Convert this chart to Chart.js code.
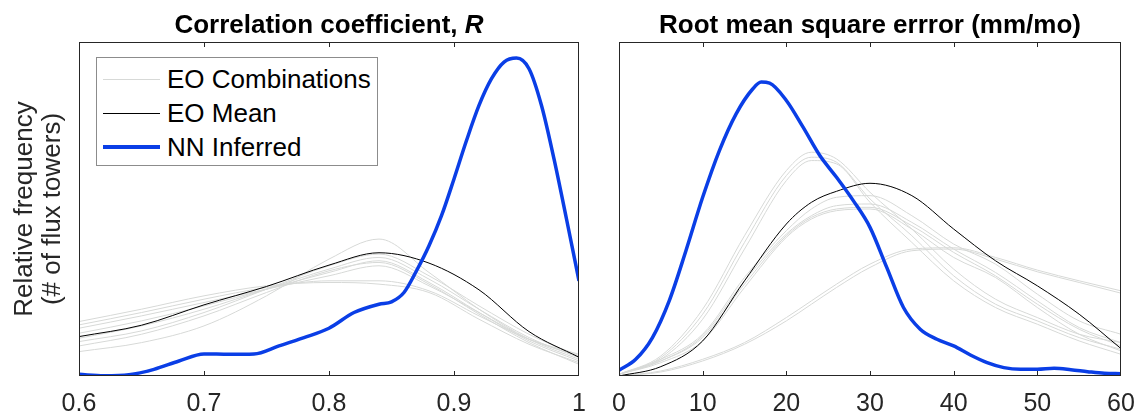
<!DOCTYPE html>
<html>
<head>
<meta charset="utf-8">
<script src="https://cdn.jsdelivr.net/npm/chart.js@4.4.1/dist/chart.umd.min.js"></script>
<style>
  body { margin: 0; background: #fff; font-family: "Liberation Sans", Arial, sans-serif; }
  #page { position: relative; width: 1139px; height: 419px; overflow: hidden; }
  canvas { position: absolute; top: 0; }
  #leftChart { left: 0; }
  #rightChart { left: 600px; }
  .ttl { position: absolute; top: 8px; font-size: 26px; font-weight: bold; color: #000; text-align: center; white-space: nowrap; line-height: 32px; }
  .frame { position: absolute; box-sizing: border-box; border: 1px solid #262626; pointer-events: none; }
  .tk { position: absolute; width: 1px; height: 5px; background: #262626; }
  #legend { position: absolute; left: 96px; top: 57px; width: 282px; height: 109px; border: 1px solid #8c8c8c; background: #fff; box-sizing: border-box; padding-top: 4px; }
  .row { height: 34px; display: flex; align-items: center; font-size: 26px; color: #000; }
  .sw { display: inline-block; width: 57px; margin-left: 6px; margin-right: 7px; }
</style>
</head>
<body>
<div id="page">
  <canvas id="leftChart" width="600" height="419"></canvas>
  <canvas id="rightChart" width="539" height="419"></canvas>
  <div class="ttl" style="left:79px;width:500px;">Correlation coefficient, <i>R</i></div>
  <div class="ttl" style="left:619px;width:502px;">Root mean square errror (mm/mo)</div>
</div>
<script>
// ---- data (relative frequency, as fraction of the axis height) ----
const leftTicks = [0.6, 0.7, 0.8, 0.9, 1];
const rightTicks = [0, 10, 20, 30, 40, 50, 60];

// correlation panel
const leftGrid = [0.6, 0.65, 0.7, 0.75, 0.8, 0.84, 0.88, 0.92, 0.96, 1.0];
const leftMean = [0.118, 0.152, 0.213, 0.268, 0.332, 0.369, 0.338, 0.258, 0.133, 0.056];
const leftCombos = [
  [0.073, 0.10, 0.15, 0.24, 0.35, 0.41, 0.31, 0.20, 0.11, 0.05],
  [0.103, 0.135, 0.19, 0.26, 0.33, 0.365, 0.30, 0.21, 0.125, 0.06],
  [0.113, 0.15, 0.20, 0.26, 0.32, 0.355, 0.29, 0.20, 0.115, 0.055],
  [0.128, 0.165, 0.21, 0.26, 0.31, 0.345, 0.28, 0.19, 0.105, 0.045],
  [0.143, 0.18, 0.22, 0.26, 0.30, 0.33, 0.27, 0.19, 0.11, 0.06],
  [0.153, 0.19, 0.23, 0.265, 0.285, 0.285, 0.255, 0.18, 0.11, 0.065],
  [0.163, 0.20, 0.24, 0.27, 0.28, 0.275, 0.25, 0.17, 0.095, 0.04],
  [0.09, 0.125, 0.18, 0.25, 0.315, 0.34, 0.275, 0.185, 0.10, 0.035]
];
const leftNNx = [0.6, 0.62, 0.64, 0.66, 0.68, 0.7, 0.72, 0.74, 0.76, 0.78, 0.8, 0.82, 0.84, 0.85, 0.86,
  0.87, 0.88, 0.89, 0.9, 0.91, 0.92, 0.93, 0.94, 0.95, 0.96, 0.97, 0.98, 0.99, 1.0];
const leftNN = [0.005, 0.001, 0.004, 0.02, 0.045, 0.066, 0.065, 0.066, 0.09, 0.115, 0.143, 0.19, 0.215, 0.222, 0.25,
  0.315, 0.39, 0.48, 0.59, 0.705, 0.81, 0.89, 0.94, 0.952, 0.92, 0.81, 0.65, 0.47, 0.285];

// rmse panel
const rightGrid = [0, 5, 10, 15, 20, 23, 26, 30, 35, 40, 45, 50, 55, 60];
const rightMean = [0.0, 0.028, 0.105, 0.285, 0.455, 0.52, 0.553, 0.577, 0.54, 0.44, 0.345, 0.27, 0.185, 0.082];
const rightCombos = [
  [0.005, 0.06, 0.2, 0.42, 0.615, 0.67, 0.65, 0.55, 0.44, 0.32, 0.23, 0.175, 0.125, 0.1],
  [0.005, 0.055, 0.185, 0.40, 0.60, 0.655, 0.64, 0.53, 0.42, 0.30, 0.215, 0.165, 0.115, 0.08],
  [0.005, 0.05, 0.17, 0.38, 0.585, 0.645, 0.635, 0.52, 0.40, 0.285, 0.205, 0.155, 0.105, 0.065],
  [0.005, 0.05, 0.125, 0.295, 0.435, 0.50, 0.535, 0.54, 0.48, 0.395, 0.335, 0.245, 0.165, 0.125],
  [0.005, 0.045, 0.12, 0.285, 0.425, 0.48, 0.51, 0.515, 0.46, 0.38, 0.31, 0.225, 0.145, 0.1],
  [0.005, 0.045, 0.115, 0.275, 0.42, 0.475, 0.50, 0.505, 0.45, 0.37, 0.30, 0.215, 0.14, 0.09],
  [0.005, 0.04, 0.105, 0.265, 0.415, 0.47, 0.495, 0.50, 0.44, 0.355, 0.295, 0.205, 0.125, 0.075],
  [0.0, 0.015, 0.05, 0.10, 0.175, 0.225, 0.275, 0.335, 0.38, 0.384, 0.355, 0.317, 0.285, 0.255],
  [0.0, 0.012, 0.045, 0.095, 0.165, 0.215, 0.265, 0.325, 0.375, 0.38, 0.35, 0.312, 0.28, 0.248]
];
const rightNNx = [0, 2, 4, 6, 8, 10, 12, 14, 16, 17, 18, 20, 22, 24, 26, 28, 30, 32, 34, 36, 38, 40,
  42, 44, 46, 48, 50, 52, 54, 56, 58, 60];
const rightNN = [0.017, 0.05, 0.115, 0.225, 0.375, 0.535, 0.675, 0.785, 0.86, 0.88, 0.877, 0.825, 0.745, 0.66,
  0.595, 0.525, 0.445, 0.325, 0.205, 0.14, 0.11, 0.09, 0.063, 0.04, 0.025, 0.02, 0.02, 0.023, 0.019, 0.013, 0.008, 0.007];

const labels = ['EO Combinations', 'EO Mean', 'NN Inferred'];

// styles
const comboColor = '#d7d9d7';
const meanColor = '#000000';
const nnColor = '#0a3ee6';
const axisColor = '#262626';
const fontFam = '"Liberation Sans", Arial, sans-serif';

function pts(xs, ys) {
  return xs.map((x, i) => ({ x: x, y: ys[i] }));
}

function buildSets(grid, combos, mean, nnx, nn) {
  const sets = [];
  sets.push({ label: labels[2], data: pts(nnx, nn), borderColor: nnColor, borderWidth: 3.5, order: 0 });
  sets.push({ label: labels[1], data: pts(grid, mean), borderColor: meanColor, borderWidth: 1, order: 1 });
  combos.forEach((c) => {
    sets.push({ label: labels[0], data: pts(grid, c), borderColor: comboColor, borderWidth: 1, order: 2 });
  });
  return sets;
}

function makeChart(id, sets, xmin, xmax, ticks, pad, withYTitle) {
  return new Chart(document.getElementById(id), {
    type: 'line',
    data: { datasets: sets },
    options: {
      responsive: false,
      animation: false,
      devicePixelRatio: 1,
      layout: { padding: pad },
      elements: { point: { radius: 0 }, line: { cubicInterpolationMode: 'monotone' } },
      plugins: { legend: { display: false }, tooltip: { enabled: false } },
      scales: {
        x: {
          type: 'linear', min: xmin, max: xmax,
          grid: { display: false, drawTicks: false },
          border: { display: false },
          afterBuildTicks: (s) => { s.ticks = ticks.map((v) => ({ value: v })); },
          afterFit: (s) => { s.height = 43; s.paddingLeft = 0; s.paddingRight = 0; },
          ticks: {
            maxRotation: 0, autoSkip: false, padding: 13, color: axisColor,
            font: { family: fontFam, size: 25 },
            callback: (v) => String(+Number(v).toFixed(1))
          }
        },
        y: {
          display: withYTitle, min: 0, max: 1,
          grid: { display: false, drawTicks: false },
          border: { display: false },
          ticks: { display: false },
          afterFit: (s) => { s.width = withYTitle ? 79 : 0; },
          title: {
            display: withYTitle,
            text: ['Relative frequency', '(# of flux towers)'],
            color: axisColor,
            padding: { top: 11, bottom: 0 },
            font: { family: fontFam, size: 26, lineHeight: 1.08 }
          }
        }
      }
    }
  });
}

const leftChart = makeChart('leftChart', buildSets(leftGrid, leftCombos, leftMean, leftNNx, leftNN),
  0.6, 1, leftTicks, { left: 0, right: 21, top: 42, bottom: 0 }, true);
const rightChart = makeChart('rightChart', buildSets(rightGrid, rightCombos, rightMean, rightNNx, rightNN),
  0, 60, rightTicks, { left: 19, right: 18, top: 42, bottom: 0 }, false);

// axes box + inward ticks (matlab style), placed from the chart's own scale
const page = document.getElementById('page');
function addFrame(chart) {
  const off = chart.canvas.offsetLeft;
  const a = chart.chartArea;
  const l = Math.round(a.left), r = Math.round(a.right), t = Math.round(a.top), b = Math.round(a.bottom);
  const box = document.createElement('div');
  box.className = 'frame';
  box.style.left = (off + l) + 'px';
  box.style.top = t + 'px';
  box.style.width = (r - l) + 'px';
  box.style.height = (b - t) + 'px';
  page.appendChild(box);
  chart.scales.x.ticks.forEach((tk) => {
    const px = Math.min(Math.round(chart.scales.x.getPixelForValue(tk.value)), r - 1);
    [t, b - 5].forEach((y) => {
      const m = document.createElement('div');
      m.className = 'tk';
      m.style.left = (off + px) + 'px';
      m.style.top = y + 'px';
      page.appendChild(m);
    });
  });
}
addFrame(leftChart);
addFrame(rightChart);

// legend (inside the left axes)
const legendStyles = [
  { color: comboColor, width: 1 },
  { color: meanColor, width: 1 },
  { color: nnColor, width: 4 }
];
const legendBox = document.createElement('div');
legendBox.id = 'legend';
page.appendChild(legendBox);
labels.forEach((txt, i) => {
  const row = document.createElement('div');
  row.className = 'row';
  const sw = document.createElement('span');
  sw.className = 'sw';
  sw.style.borderTop = legendStyles[i].width + 'px solid ' + legendStyles[i].color;
  row.appendChild(sw);
  row.appendChild(document.createTextNode(txt));
  legendBox.appendChild(row);
});
</script>
</body>
</html>
